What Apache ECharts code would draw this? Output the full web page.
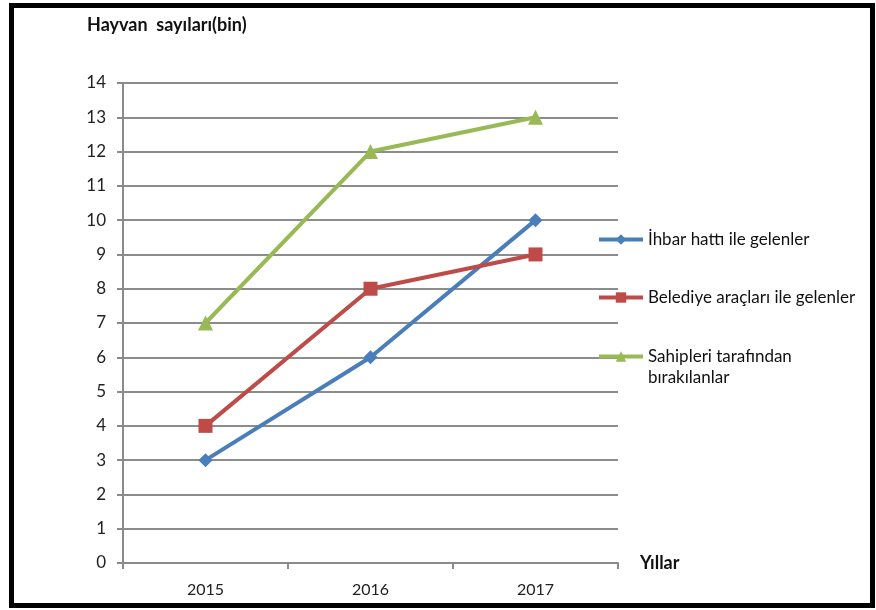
<!DOCTYPE html>
<html>
<head>
<meta charset="utf-8">
<script src="https://cdn.jsdelivr.net/npm/echarts@6/dist/echarts.min.js"></script>
<style>
  html, body { margin: 0; padding: 0; background: #fff; }
  #chart { width: 876px; height: 610px; }
</style>
</head>
<body>
<div id="chart"></div>
<script>
// Years on the category axis
const years = ['2015', '2016', '2017'];

// Animal counts (thousands) per arrival type
const ihbarHatti = [3, 6, 10];
const belediyeAraclari = [4, 8, 9];
const sahipleriBirakan = [7, 12, 13];

// Series names shown in the legend
const seriesNames = [
  'İhbar hattı ile gelenler',
  'Belediye araçları ile gelenler',
  'Sahipleri tarafından bırakılanlar'
];

const FONT = 'Lato, "Open Sans", sans-serif';
const colors = ['#4A7EBB', '#BE4B48', '#98B954'];
const symbols = ['diamond', 'rect', 'triangle'];
const symbolSizes = [14, 14, 15];
const dataSets = [ihbarHatti, belediyeAraclari, sahipleriBirakan];

const chart = echarts.init(document.getElementById('chart'), null, { renderer: 'canvas' });

// one legend block per series so each can sit at its own height;
// the last label wraps, with a blank first line so the icon lines up with "Sahipleri"
const legendTops = [224, 282, 320];

const option = {
  backgroundColor: '#ffffff',
  animation: false,
  title: {
    text: 'Hayvan  sayıları(bin)',
    left: 82,
    top: 11,
    textStyle: { fontFamily: FONT, fontSize: 18, fontWeight: 'bold', color: '#111' }
  },
  legend: seriesNames.map((name, i) => ({
    data: [name],
    orient: 'vertical',
    left: 592,
    top: legendTops[i],
    itemWidth: 44,
    itemHeight: 13,
    itemGap: 4,
    lineStyle: { width: 4 },
    formatter: n => n === seriesNames[2] ? ' \nSahipleri tarafından\nbırakılanlar' : n,
    textStyle: {
      fontFamily: FONT,
      fontSize: 17,
      color: '#111',
      lineHeight: 21
    }
  })),
  grid: { left: 123, right: 258, top: 83, bottom: 47 },
  xAxis: {
    type: 'category',
    data: years,
    boundaryGap: true,
    name: 'Yıllar',
    nameLocation: 'end',
    nameGap: 22,
    nameTextStyle: { fontFamily: FONT, fontSize: 18, fontWeight: 'bold', color: '#111', verticalAlign: 'middle', padding: [4, 0, 0, 0] },
    axisLine: { lineStyle: { color: '#8a8a8a', width: 2 } },
    axisTick: { show: true, length: 6, alignWithLabel: false, lineStyle: { color: '#8a8a8a', width: 2 } },
    axisLabel: { fontFamily: FONT, fontSize: 16, color: '#222', margin: 19 },
    splitLine: { show: false }
  },
  yAxis: {
    type: 'value',
    min: 0,
    max: 14,
    interval: 1,
    axisLine: { show: true, lineStyle: { color: '#8a8a8a', width: 2 } },
    axisTick: { show: true, length: 6, lineStyle: { color: '#8a8a8a', width: 2 } },
    axisLabel: { fontFamily: FONT, fontSize: 17, color: '#222', margin: 17 },
    splitLine: { show: true, lineStyle: { color: '#8c8c8c', width: 2 } }
  },
  series: seriesNames.map((name, i) => ({
    name: name,
    type: 'line',
    data: dataSets[i],
    symbol: symbols[i],
    symbolSize: symbolSizes[i],
    showAllSymbol: true,
    lineStyle: { color: colors[i], width: 4 },
    itemStyle: { color: colors[i] }
  })),
  graphic: [{
    type: 'rect',
    shape: { x: 11.5, y: 5.5, width: 861, height: 600 },
    style: { fill: 'none', stroke: '#000', lineWidth: 5 },
    silent: true,
    z: 100
  }]
};

chart.setOption(option);
</script>
</body>
</html>
